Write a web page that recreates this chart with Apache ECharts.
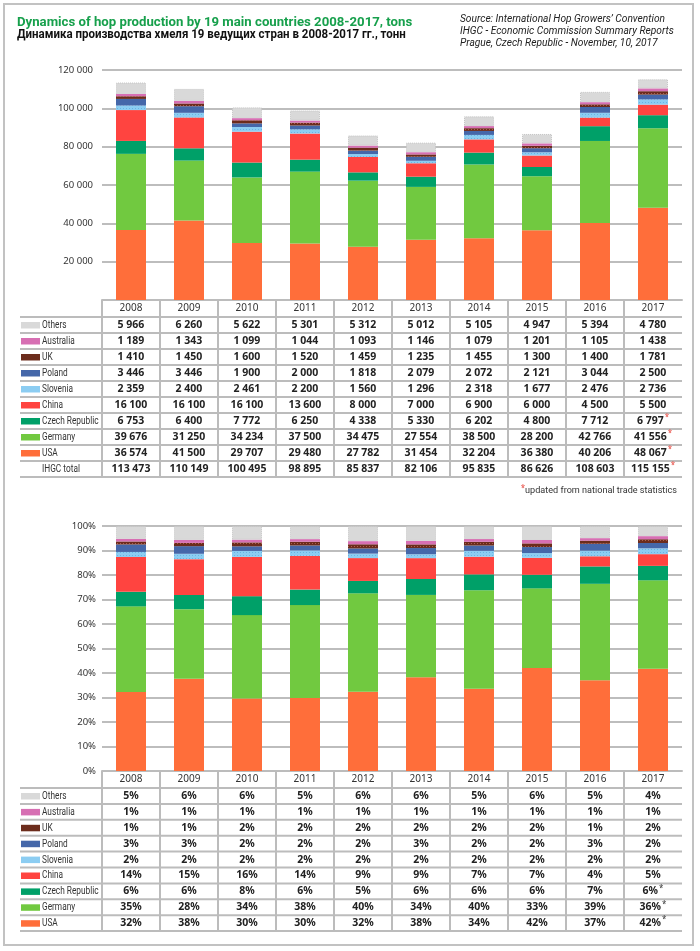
<!DOCTYPE html>
<html>
<head>
<meta charset="utf-8">
<script src="https://cdn.jsdelivr.net/npm/echarts/dist/echarts.min.js"></script>
<style>html,body{margin:0;padding:0;background:#fff}#c{width:700px;height:951px}</style>
</head>
<body>
<div id="c"></div>
<script>
// ---------------- DATA ----------------
const years = ['2008','2009','2010','2011','2012','2013','2014','2015','2016','2017'];
const usa       = [36574,41500,29707,29480,27782,31454,32204,36380,40206,48067];
const germany   = [39676,31250,34234,37500,34475,27554,38500,28200,42766,41556];
const czech     = [6753,6400,7772,6250,4338,5330,6202,4800,7712,6797];
const china     = [16100,16100,16100,13600,8000,7000,6900,6000,4500,5500];
const slovenia  = [2359,2400,2461,2200,1560,1296,2318,1677,2476,2736];
const poland    = [3446,3446,1900,2000,1818,2079,2072,2121,3044,2500];
const uk        = [1410,1450,1600,1520,1459,1235,1455,1300,1400,1781];
const australia = [1189,1343,1099,1044,1093,1146,1079,1201,1105,1438];
const others    = [5966,6260,5622,5301,5312,5012,5105,4947,5394,4780];
const totals    = [113473,110149,100495,98895,85837,82106,95835,86626,108603,115155];

// shares (%) as printed in the lower table
const usaPct       = [32,38,30,30,32,38,34,42,37,42];
const germanyPct   = [35,28,34,38,40,34,40,33,39,36];
const czechPct     = [6,6,8,6,5,6,6,6,7,6];
const chinaPct     = [14,15,16,14,9,9,7,7,4,5];
const sloveniaPct  = [2,2,2,2,2,2,2,2,2,2];
const polandPct    = [3,3,2,2,2,3,2,2,3,2];
const ukPct        = [1,1,2,2,2,2,2,2,1,2];
const australiaPct = [1,1,1,1,1,1,1,1,1,1];
const othersPct    = [5,6,6,5,6,6,5,6,5,4];

const countries = ['USA','Germany','Czech Republic','China','Slovenia','Poland','UK','Australia','Others']; // stack order
const tableRows = ['Others','Australia','UK','Poland','Slovenia','China','Czech Republic','Germany','USA'];
const updatedRows = ['Czech Republic','Germany','USA','IHGC total'];
const updatedYear = '2017';
const yTicksTons = [0,20000,40000,60000,80000,100000,120000];
const yTicksPct = [0,10,20,30,40,50,60,70,80,90,100];

const titleEn = 'Dynamics of hop production by 19 main countries 2008-2017, tons';
const titleRu = 'Динамика производства хмеля 19 ведущих стран в 2008-2017 гг., тонн';
const sourceLines = ['Source: International Hop Growers\u2019 Convention','IHGC - Economic Commission Summary Reports','Prague, Czech Republic - November, 10, 2017'];
const footnote = 'updated from national trade statistics';

// ---------------- STYLE ----------------
const values = {'USA':usa,'Germany':germany,'Czech Republic':czech,'China':china,'Slovenia':slovenia,'Poland':poland,'UK':uk,'Australia':australia,'Others':others};
const pcts = {'USA':usaPct,'Germany':germanyPct,'Czech Republic':czechPct,'China':chinaPct,'Slovenia':sloveniaPct,'Poland':polandPct,'UK':ukPct,'Australia':australiaPct,'Others':othersPct};
const COLORS = {'USA':'#ff6e3a','Germany':'#71c940','Czech Republic':'#00a068','China':'#ff4440','Slovenia':'#8ccdf2','Poland':'#4567a9','UK':'#6c2c1c','Australia':'#d76fb3','Others':'#d9d9d9'};

const NF = 'Roboto';
const SF = 'Noto Sans';

function fmtNum(n){ return String(n).replace(/\B(?=(\d{3})+(?!\d))/g,' '); }

const GRID_LINE = '#bdbdbd';
const TABLE_LINE = '#bcbcbc';

const series = [];
countries.forEach(name=>{
  const base = {type:'bar', name, barWidth:30, animation:false, emphasis:{disabled:true},
    itemStyle:{color:COLORS[name]}};
  if(name==='Others'){ base.itemStyle.borderColor='#c4c4c4'; base.itemStyle.borderWidth=1; base.itemStyle.borderType='dotted'; }
  if(name==='UK'){ base.itemStyle.decal={symbol:'rect',symbolSize:1,dashArrayX:[1,2],dashArrayY:[1,2],color:'rgba(190,110,90,0.8)'}; }
  if(name==='Slovenia'){ base.itemStyle.decal={symbol:'rect',symbolSize:1,dashArrayX:[1,2],dashArrayY:[1,2],color:'rgba(90,170,220,0.7)'}; }
  series.push(Object.assign({}, base, {stack:'tons', xAxisIndex:0, yAxisIndex:0, data: values[name]}));
  series.push(Object.assign({}, base, {stack:'share', xAxisIndex:1, yAxisIndex:1,
    data: values[name].map((v,i)=> v/totals[i]*100)}));
});

const xAxisBase = {type:'category', data:years, axisTick:{show:false},
  axisLine:{lineStyle:{color:TABLE_LINE,width:2}},
  axisLabel:{margin:3, fontSize:10, color:'#333', fontFamily:SF}};

const option = {
  backgroundColor:'#fff',
  animation:false,
  grid:[{left:102,right:18,top:70,height:230},{left:102,right:18,top:526,height:245}],
  xAxis:[Object.assign({gridIndex:0}, xAxisBase), Object.assign({gridIndex:1}, xAxisBase)],
  yAxis:[
    {type:'value', gridIndex:0, min:yTicksTons[0], max:yTicksTons[yTicksTons.length-1], interval:yTicksTons[1]-yTicksTons[0],
     axisLine:{show:false}, axisTick:{show:false},
     splitLine:{lineStyle:{color:GRID_LINE,width:2}},
     axisLabel:{margin:9, fontSize:9.5, color:'#333', fontFamily:SF, formatter:v=> v===0?'':fmtNum(v)}},
    {type:'value', gridIndex:1, min:yTicksPct[0], max:yTicksPct[yTicksPct.length-1], interval:yTicksPct[1]-yTicksPct[0],
     axisLine:{show:false}, axisTick:{show:false},
     splitLine:{lineStyle:{color:GRID_LINE,width:2}},
     axisLabel:{margin:6, fontSize:9.5, color:'#333', fontFamily:SF, formatter:'{value}%'}}
  ],
  series
};

const chart = echarts.init(document.getElementById('c'), null, {renderer:'canvas'});
chart.setOption(option);

// ---------------- TABLES & TEXT ----------------
const g = [];
function line(x1,y1,x2,y2,c,w){ g.push({type:'line', silent:true, z:10, shape:{x1,y1,x2,y2}, style:{stroke:c||TABLE_LINE, lineWidth:w||2}}); }
function text(x,y,t,st,sx){ g.push({type:'text', silent:true, z:11, x, y, scaleX:sx||1, style:Object.assign({text:t, align:'center', verticalAlign:'middle', fill:'#222', fontSize:11, fontFamily:SF}, st||{})}); }

// frame
g.push({type:'rect', silent:true, z:9, shape:{x:4,y:4,width:689,height:941}, style:{fill:'none', stroke:'#c2c2c2', lineWidth:2}});

// titles
text(17,22.5,titleEn,{align:'left', fill:'#17a04c', fontWeight:'bold', fontSize:13.2, fontFamily:NF});
text(17,35,titleRu,{align:'left', fill:'#111', fontWeight:'bold', fontSize:13.2, fontFamily:NF}, 0.872);
[19.5,31.5,43].forEach((y,i)=> text(460,y,sourceLines[i],{align:'left', fill:'#222', fontStyle:'italic', fontSize:10.2, fontFamily:NF}));

function buildTable(xi, headTop, rowTop, rowH, rows, cellText, starColor){
  const cx = years.map(y=> chart.convertToPixel({xAxisIndex:xi}, y));
  const band = cx[1]-cx[0];
  const right = cx[cx.length-1]+band/2;
  const bottom = rowTop + rows.length*rowH;
  for(let r=0;r<=rows.length;r++) line(20, rowTop+r*rowH, right, rowTop+r*rowH);
  cx.forEach(x=> line(x-band/2, headTop, x-band/2, bottom));
  rows.forEach((name,r)=>{
    const yc = rowTop + r*rowH + rowH/2;
    if(COLORS[name]){
      g.push({type:'rect', silent:true, z:11, shape:{x:21,y:rowTop+r*rowH+5,width:19,height:6.5}, style:{fill:COLORS[name]}});
    }
    text(42, yc+0.5, name, {align:'left', fill:'#333', fontSize:10, fontFamily:NF}, 0.83);
    years.forEach((yr,i)=>{
      const t = cellText(name,i);
      if(yr===updatedYear && updatedRows.indexOf(name)>=0 && starColor){
        text(cx[i], yc, '{v|'+t+'}{s|*}', {rich:{
          v:{fontSize:10.5, fontWeight:'bold', fontFamily:SF, fill:'#222', lineHeight:14},
          s:{fontSize:8, fontFamily:SF, fill:starColor, lineHeight:8, verticalAlign:'top', padding:[0,0,0,1]}}});
      } else {
        text(cx[i], yc, t, {fontWeight:'bold', fontSize:10.5, fill:'#222'});
      }
    });
  });
}

buildTable(0, 300, 317, 16, tableRows.concat(['IHGC total']),
  (name,i)=> fmtNum(name==='IHGC total' ? totals[i] : values[name][i]), '#e8453c');
buildTable(1, 771, 788, 15.9, tableRows,
  (name,i)=> pcts[name][i]+'%', '#333');

// footnote
g.push({type:'text', silent:true, z:11, x:677, y:491, style:{text:'{s|*}{t|'+footnote+'}', align:'right', verticalAlign:'middle',
  rich:{s:{fontSize:8, fill:'#e8453c', verticalAlign:'top', lineHeight:8, fontFamily:SF},
        t:{fontSize:9.1, fill:'#333', fontFamily:NF, lineHeight:13}}}});

chart.setOption({graphic:{elements:g}});
</script>
</body>
</html>
